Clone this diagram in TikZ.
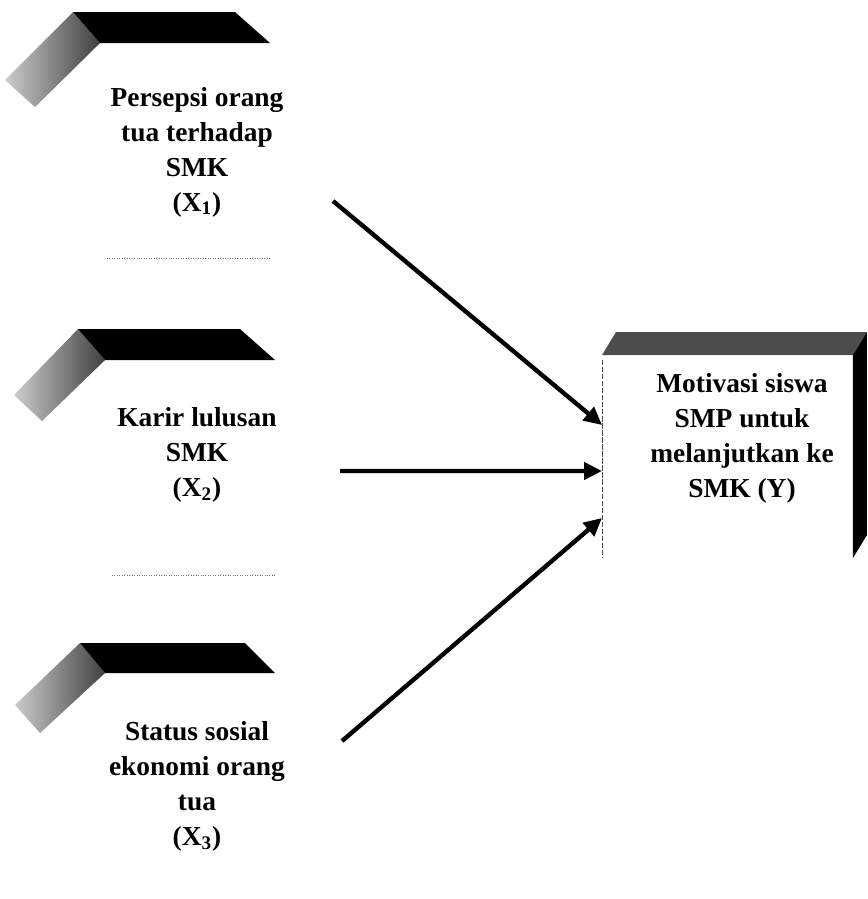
\documentclass[tikz,border=0pt]{standalone}
\usepackage{fontspec}
\setmainfont{Liberation Serif}
\usetikzlibrary{arrows.meta}

\begin{document}
\begin{tikzpicture}[
    x=0.02cm, y=-0.02cm,
    text centered,
	teks/.style={
	  align=center,
	  font=\bfseries\fontsize{15.6}{19.9}\selectfont
	},
	muka/.style={
	  rectangle,
	  inner sep=0pt,
	  outer sep=0pt,
	  minimum width=3.4cm,
	  minimum height=4.3cm
	},
	atap/.style={
	  fill=black
	},
	sisi/.style={
	  left color=black!20,
	  right color=black!75
	},
	alas/.style={draw=black!55, densely dotted},
	tepi/.style={draw=black!70, thin, dash pattern=on 3pt off 1pt},
 	line/.style={draw, line width=2.5pt, -{Triangle[length=0.36cm, width=0.34cm]}}
	]
	\useasboundingbox (0, 0) rectangle (867, 899);
	\node at (185, 150.5) [muka] (kotaka) {};
	\node at (190, 467.5) [muka] (kotakb) {};
	\node at (190, 780.5) [muka] (kotakc) {};
	\node at (727.5, 456.5) [muka, minimum width=5.02cm, minimum height=4.06cm] (kotaky) {};
	\path[sisi] (kotaka.north west) -- ++(-27, -31) -- ++(-68, 68) -- ++(30, 27) -- cycle;
	\path[atap] (kotaka.north west) -- ++(-27, -31) -- ++(162, 0) -- (kotaka.north east) -- cycle;
	\path[sisi] (kotakb.north west) -- ++(-27, -31) -- ++(-64, 66) -- ++(28, 26) -- cycle;
	\path[atap] (kotakb.north west) -- ++(-27, -31) -- ++(162, 0) -- (kotakb.north east) -- cycle;
	\path[sisi] (kotakc.north west) -- ++(-25, -30) -- ++(-65, 62) -- ++(25, 28) -- cycle;
	\path[atap] (kotakc.north west) -- ++(-25, -30) -- ++(165, 0) -- (kotakc.north east) -- cycle;
	\path[alas] ([xshift=0.14cm]kotaka.south west) -- (kotaka.south east);
	\path[alas] ([xshift=0.14cm]kotakb.south west) -- (kotakb.south east);
	\path[fill=black!70] (kotaky.north west) -- ++(14, -23) -- ++(251, 0) -- (kotaky.north east) -- cycle;
	\path[atap] (kotaky.north east) -- ++(14, -23) -- ++(0, 203) -- (kotaky.south east) -- cycle;
	\path[tepi] ([yshift=-0.1cm]kotaky.north west) -- (kotaky.south west);
	\node at (197, 152) [teks] (persepsi) {Persepsi orang\\ tua terhadap\\ SMK\\ (X\textsubscript{1})};
	\node at (197, 455) [teks] (karir) {Karir lulusan\\ SMK\\ (X\textsubscript{2})};
	\node at (197, 786) [teks] (status) {Status sosial\\ ekonomi orang\\ tua\\ (X\textsubscript{3})};
	\node at (742, 438) [teks] (motivasi) {Motivasi siswa\\ SMP untuk\\ melanjutkan ke\\ SMK (Y)};
	\coordinate (dari1) at (333, 201);
	\coordinate (dari2) at (340, 471);
	\coordinate (dari3) at (342, 741);
	\path[line] (dari1) -- ([yshift=-1.4cm]kotaky.north west);
	\path[line] (dari2) -- ([yshift=-2.32cm]kotaky.north west);
	\path[line] (dari3) -- ([yshift=-3.26cm]kotaky.north west);
  \end{tikzpicture}
\end{document}
